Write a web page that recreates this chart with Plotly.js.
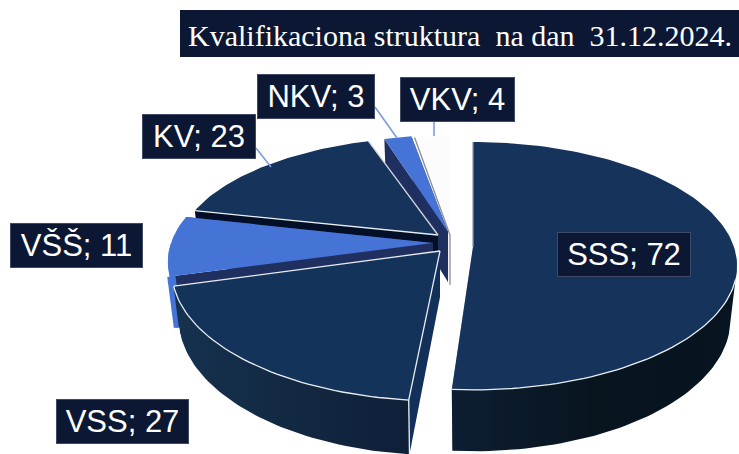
<!DOCTYPE html>
<html><head><meta charset="utf-8">
<script src="https://cdn.plot.ly/plotly-3.0.1.min.js"></script>
<style>html,body{margin:0;padding:0;background:#fff}#c{width:739px;height:454px}</style></head>
<body><div id="c"></div>
<script>
// ---- data (clockwise from 12 o'clock) ----
const categories = ["SSS","VSS","VŠŠ","KV","NKV","VKV"];
const values = [72,27,11,23,3,4];
const chartTitle = "Kvalifikaciona struktura  na dan  31.12.2024.";

// ---- tilted-pie projection and per-slice explode offsets ----
const tiltK = 0.153;
const centerX = [473,440,433,438,448,450];
const centerY = [247,251,243,235,232,235];
const radiusX = [261,265,262,258,236,228];
const radiusY = [121,127,121,113,112,114];
const depth   = [52,46,49,50,50,50];
const startTweak = [0,0.6,0,0,0,0];   // degrees
const endTweak   = [-1.2,0,0,0,0,0];
const sideFrom   = [105,90,90,90,90,90]; // outer wall is seen from this angle to 270
const topColor  = ["#15335b","#14335b","#4674d6","#15335b","#4674d6","#fcfcfc"];
const cutColor  = ["#9aa3b0","#12305a","#1f2f60","#030f26","#1f2f60","#f4f4f4"];
const sideScale = [
  [[0,"#0d1d32"],[0.5,"#08151f"],[1,"#071421"]],
  [[0,"#15324f"],[0.6,"#12263f"],[1,"#0e1f38"]],
  [[0,"#4674d6"],[1,"#4674d6"]],
  [[0,"#15335b"],[1,"#15335b"]],
  [[0,"#1f2f60"],[1,"#1f2f60"]],
  [[0,"#d8d8d8"],[1,"#d8d8d8"]]
];
const drawOrder = [5,4,3,2,1,0];
const white = "#e9edf2";
// edges: [start radial edge, end radial edge, arc]
const edgeLines = [
  ["#8f98a6",null,null],
  [white,white,white],
  [null,null,null],
  [white,"#cfd5de",null],
  [null,null,null],
  ["#8b8f96",null,null]
];

const total = values.reduce((a,b)=>a+b,0);
const rad = d=>d*Math.PI/180;
function project(i,theta,r,low){
  const X=r*Math.sin(theta), Y=r*Math.cos(theta), w=1+tiltK*Y;
  const sx = low?0.975:1;
  return [centerX[i]+radiusX[i]*X/w*sx, centerY[i]-radiusY[i]*Y/w+(low?depth[i]/w:0)];
}
function arc(i,a,b,low){
  const n=Math.max(6,Math.ceil(Math.abs(b-a)*40)),p=[];
  for(let k=0;k<=n;k++) p.push(project(i,a+(b-a)*k/n,1,low));
  return p;
}
const poly=(pts,extra)=>Object.assign({type:"scatter",mode:"lines",x:pts.map(p=>p[0]),y:pts.map(p=>p[1]),
  fill:"toself",line:{width:0},hoverinfo:"skip",showlegend:false},extra);
const stroke=(pts,color,w)=>({type:"scatter",mode:"lines",x:pts.map(p=>p[0]),y:pts.map(p=>p[1]),
  line:{color:color,width:w||1.3},hoverinfo:"skip",showlegend:false});

const starts=[];let acc=0;
values.forEach(v=>{starts.push(acc/total*2*Math.PI);acc+=v;});
const traces=[];
drawOrder.forEach(i=>{
  const a=starts[i]+rad(startTweak[i]), b=starts[i]+values[i]/total*2*Math.PI+rad(endTweak[i]);
  const apexT=project(i,0,0,false), apexB=project(i,0,0,true);
  traces.push(poly([apexT,project(i,a,1,false),project(i,a,1,true),apexB],{fillcolor:cutColor[i]}));
  traces.push(poly([apexT,project(i,b,1,false),project(i,b,1,true),apexB],{fillcolor:cutColor[i]}));
  const sa=Math.max(a,rad(sideFrom[i])), sb=Math.min(b,rad(270));
  if(sb>sa){
    const up=arc(i,sa,sb,false), dn=arc(i,sa,sb,true).reverse();
    traces.push(poly(up.concat(dn),{fillcolor:sideScale[i][0][1],
       fillgradient:{type:"horizontal",colorscale:sideScale[i]}}));
  }
  const up=arc(i,a,b,false);
  if(i===2) traces.push(stroke([project(i,a,1,false),project(i,a,1,true)],topColor[i],5));
  traces.push(poly([apexT].concat(up),{fillcolor:topColor[i]}));
  if(i===0) traces.push(stroke(arc(i,rad(sideFrom[i]),b,false),white,1.3));
  const e=edgeLines[i];
  if(e[0]) traces.push(stroke([apexT,up[0]],e[0]));
  if(e[1]) traces.push(stroke([apexT,up[up.length-1]],e[1]));
  if(e[2]) traces.push(stroke(up,e[2]));
  if(i===1) traces.push(stroke([up[0],project(i,a,1,true)],white));
  if(i===5) traces.push(stroke([apexT,apexB],"#8b8f96"));
});

// ---- labels ----
const labelBoxes = {SSS:[557,232,134,45],VSS:[56,399,133,45],"VŠŠ":[10,223,133,45],KV:[142,114,114,45],NKV:[257,74,118,45],VKV:[400,77,115,45]};
const navy="#0b1733";
const annotations=categories.map((c,i)=>{
  const b=labelBoxes[c];
  return {xref:"x",yref:"y",x:b[0],y:b[1],xanchor:"left",yanchor:"top",width:b[2]-2,height:b[3]-2,
    text:c+"; "+values[i],showarrow:false,bgcolor:navy,bordercolor:"#3f4b66",borderwidth:1,borderpad:0,align:"center",valign:"middle",
    font:{family:"Liberation Sans, Arial, sans-serif",size:31,color:"#ffffff"}};
});
annotations.push({xref:"x",yref:"y",x:187,y:18,xanchor:"left",yanchor:"top",
  text:chartTitle,showarrow:false,borderpad:0,align:"left",
  font:{family:"Liberation Serif, Georgia, serif",size:30,color:"#ffffff"}});

const lead=(x0,y0,x1,y1)=>({type:"line",xref:"x",yref:"y",x0,y0,x1,y1,line:{color:"#7c9ce2",width:1.6}});
const layout={width:739,height:454,margin:{l:0,r:0,t:0,b:0},paper_bgcolor:"#fff",plot_bgcolor:"#fff",showlegend:false,
  xaxis:{range:[0,739],visible:false,fixedrange:true},
  yaxis:{range:[454,0],visible:false,fixedrange:true},
  shapes:[{type:"rect",xref:"x",yref:"y",x0:180,y0:10,x1:739,y1:57,fillcolor:navy,line:{width:0}},
    lead(256,148,271,167),lead(375,107,397,138),lead(434,121,434,136)],
  annotations};
Plotly.newPlot("c",traces,layout,{displayModeBar:false,staticPlot:true});
</script></body></html>
